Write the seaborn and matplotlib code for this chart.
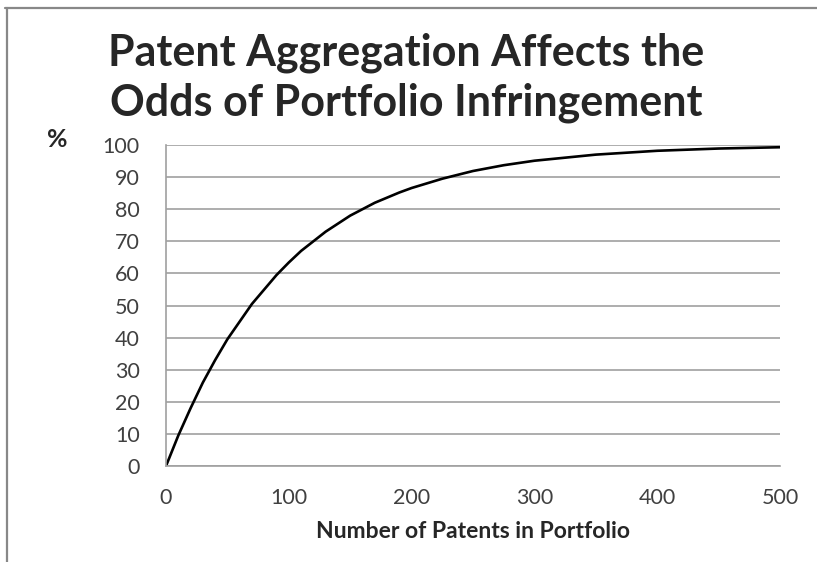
import numpy as np
import pandas as pd
import seaborn as sns
import matplotlib.pyplot as plt
from matplotlib.lines import Line2D

# values
patents = [0, 10, 20, 30, 40, 50, 60, 70, 80, 90, 100, 110, 120, 130, 140,
           150, 160, 170, 180, 190, 200, 225, 250, 275, 300, 350, 400, 450, 500]
odds_pct = [0, 9.5, 18, 26, 33, 39.5, 45, 50.5, 55, 59.5, 63.4, 67, 70, 73,
            75.5, 78, 80, 82, 83.6, 85.2, 86.6, 89.5, 91.9, 93.7, 95.1, 97.0,
            98.2, 98.9, 99.3]
x_ticks = [0, 100, 200, 300, 400, 500]
y_ticks = list(range(0, 101, 10))

df = pd.DataFrame({"patents": patents, "odds": odds_pct})

sns.set_style("white")
plt.rcParams["font.family"] = ["Lato", "DejaVu Sans"]

grey = "#a0a0a0"
fig = plt.figure(figsize=(8.17, 5.62), dpi=100)
ax = fig.add_axes([0.2032, 0.1708, 0.7515, 0.5712])

sns.lineplot(data=df, x="patents", y="odds", color="black", linewidth=1.9, ax=ax)

ax.set_xlim(0, 500)
ax.set_ylim(0, 100)
ax.set_xticks(x_ticks)
ax.set_yticks(y_ticks)
ax.tick_params(axis="x", direction="out", length=6, width=1.2, color=grey,
               pad=10, labelsize=15.5, labelcolor="#404040")
ax.tick_params(axis="y", direction="out", length=8, width=1.2, color=grey,
               pad=11, labelsize=15.5, labelcolor="#404040")
ax.yaxis.grid(True, color=grey, linewidth=1.2)
ax.xaxis.grid(False)
for side in ["top", "right"]:
    ax.spines[side].set_visible(False)
for side in ["left", "bottom"]:
    ax.spines[side].set_color(grey)
    ax.spines[side].set_linewidth(1.2)

ax.set_xlabel("Number of Patents in Portfolio", fontsize=16.5, fontweight="bold",
              labelpad=9)
ax.set_ylabel("")

fig.text(0.497, 0.862, "Patent Aggregation Affects the\nOdds of Portfolio Infringement",
         ha="center", va="center", fontsize=31, fontweight="bold",
         linespacing=1.27)
fig.text(0.07, 0.752, "%", ha="center", va="center", fontsize=18,
         fontweight="bold")

# outer frame (top and left edges only)
fig.add_artist(Line2D([0.006, 1.0], [0.9858, 0.9858], transform=fig.transFigure,
                      color="#888888", linewidth=1.6))
fig.add_artist(Line2D([0.0086, 0.0086], [0.0, 0.9858], transform=fig.transFigure,
                      color="#888888", linewidth=1.6))

fig.savefig("out.png", dpi=100)
plt.close(fig)
